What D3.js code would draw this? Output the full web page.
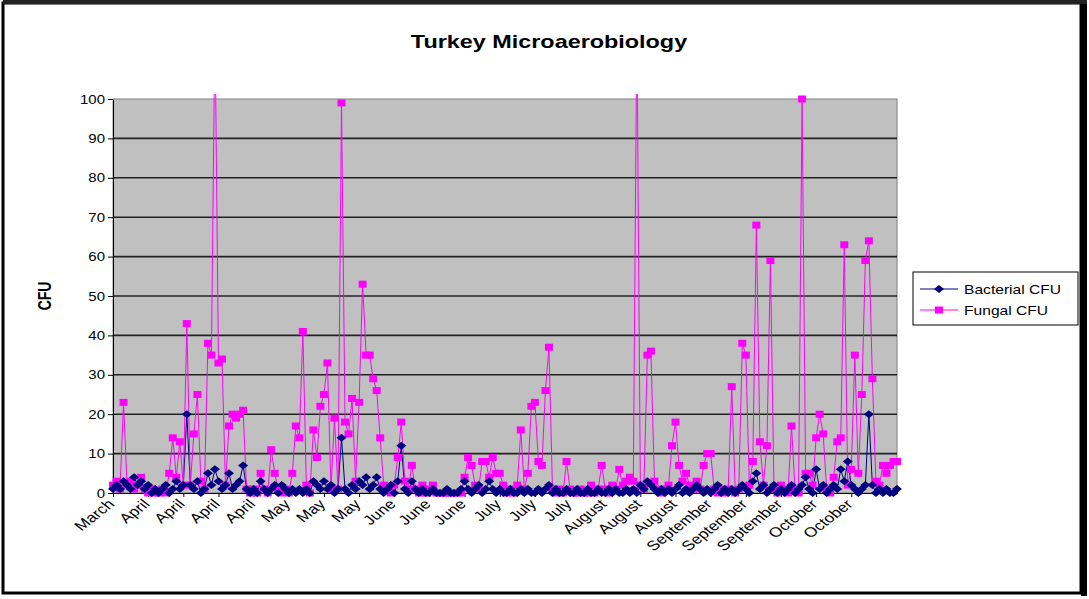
<!DOCTYPE html>
<html>
<head>
<meta charset="utf-8">
<script src="https://cdn.jsdelivr.net/npm/d3@7"></script>
<style>
  body { margin: 0; background: #fff; }
  svg { display: block; font-family: "Liberation Sans", Arial, sans-serif; }
</style>
</head>
<body>
<svg width="1089" height="599"></svg>
<script>
// category labels, one every 10 samples
const monthLabels = ["March", "April", "April", "April", "April", "May", "May", "May",
  "June", "June", "June", "July", "July", "July", "August", "August", "August",
  "September", "September", "September", "October", "October"];
const labelStep = 10;

const bacterial = [
  1, 2, 1, 3, 2, 1, 4, 2, 3, 1, 2, 0, 1, 0, 1, 2, 0, 1, 3, 1,
  2, 20, 2, 1, 3, 0, 1, 5, 2, 6, 3, 1, 2, 5, 1, 2, 3, 7, 1, 0,
  1, 0, 3, 1, 0, 1, 2, 0, 2, 1, 0, 1, 0, 1, 0, 1, 0, 3, 2, 1,
  3, 1, 2, 0, 1, 14, 1, 0, 2, 1, 3, 2, 4, 1, 2, 4, 1, 0, 1, 2,
  0, 3, 12, 1, 0, 3, 1, 0, 1, 0, 0, 1, 0, 0, 0, 1, 0, 0, 0, 1,
  3, 1, 0, 1, 2, 0, 1, 3, 1, 0, 1, 0, 0, 1, 0, 0, 1, 0, 1, 0,
  0, 1, 0, 1, 2, 0, 1, 0, 0, 1, 0, 0, 1, 0, 0, 1, 0, 0, 1, 0,
  0, 1, 0, 1, 0, 0, 1, 0, 1, 0, 2, 1, 3, 2, 1, 0, 1, 0, 1, 0,
  1, 2, 0, 1, 0, 1, 2, 1, 0, 1, 0, 1, 2, 0, 1, 0, 1, 0, 1, 2,
  1, 0, 3, 5, 1, 2, 0, 1, 2, 0, 1, 0, 1, 2, 0, 1, 2, 4, 1, 0,
  6, 1, 2, 0, 1, 2, 1, 6, 3, 8, 2, 1, 0, 1, 2, 20, 2, 0, 1, 0,
  1, 0, 0, 1
];

const fungal = [
  2, 3, 1, 23, 2, 3, 1, 2, 4, 1, 0, 1, 0, 0, 1, 0, 5, 14, 4, 13,
  2, 43, 2, 15, 25, 3, 1, 38, 35, 120, 33, 34, 2, 17, 20, 19, 20, 21, 1, 0,
  1, 0, 5, 1, 0, 11, 5, 1, 0, 1, 0, 5, 17, 14, 41, 2, 0, 16, 9, 22,
  25, 33, 1, 19, 1, 99, 18, 15, 24, 3, 23, 53, 35, 35, 29, 26, 14, 2, 1, 0,
  2, 9, 18, 3, 1, 7, 1, 0, 2, 0, 1, 2, 0, 0, 0, 0, 0, 0, 0, 0,
  4, 9, 7, 2, 1, 8, 8, 4, 9, 5, 5, 2, 0, 1, 0, 2, 16, 1, 5, 22,
  23, 8, 7, 26, 37, 1, 0, 1, 0, 8, 1, 0, 0, 1, 0, 0, 2, 0, 1, 7,
  1, 0, 2, 1, 6, 2, 3, 4, 3, 120, 2, 1, 35, 36, 3, 1, 0, 1, 2, 12,
  18, 7, 3, 5, 2, 1, 3, 1, 7, 10, 10, 1, 0, 1, 0, 1, 27, 0, 1, 38,
  35, 2, 8, 68, 13, 2, 12, 59, 1, 0, 2, 1, 0, 17, 1, 0, 100, 5, 5, 2,
  14, 20, 15, 1, 0, 4, 13, 14, 63, 2, 6, 35, 5, 25, 59, 64, 29, 3, 2, 7,
  5, 7, 8, 8
];

const yTicks = d3.range(0, 101, 10);

const svg = d3.select("svg");
const plotLeft = 113, plotRight = 897, plotTop = 99, plotBottom = 493;
const stretch = 1.28; // the source picture is widened, text included

const x = d3.scaleLinear().domain([0, fungal.length - 1]).range([plotLeft, plotRight]);
const y = d3.scaleLinear().domain([0, 100]).range([plotBottom, plotTop]);

// outer frame
svg.append("rect").attr("x", 3).attr("y", 3).attr("width", 1078).attr("height", 590)
  .attr("fill", "#fff").attr("stroke", "#000").attr("stroke-width", 3);
svg.append("rect").attr("x", 1081).attr("y", 3).attr("width", 6).attr("height", 593).attr("fill", "#000");
svg.append("rect").attr("x", 3).attr("y", 0).attr("width", 1084).attr("height", 4).attr("fill", "#222");

// title
svg.append("text")
  .attr("transform", `translate(549,48) scale(1.3,1)`)
  .attr("text-anchor", "middle")
  .attr("font-weight", "bold").attr("font-size", 18)
  .text("Turkey Microaerobiology");

// plot area
svg.append("rect").attr("x", plotLeft).attr("y", plotTop)
  .attr("width", plotRight - plotLeft).attr("height", plotBottom - plotTop)
  .attr("fill", "#c0c0c0").attr("stroke", "#808080");

svg.append("g").selectAll("line").data(yTicks.filter(t => t > 0 && t < 100)).enter().append("line")
  .attr("x1", plotLeft).attr("x2", plotRight)
  .attr("y1", d => y(d)).attr("y2", d => y(d))
  .attr("stroke", "#222").attr("stroke-width", 1.6);

// y axis
const yAxis = svg.append("g").attr("transform", `translate(${plotLeft},0)`)
  .call(d3.axisLeft(y).tickValues(yTicks).tickSize(5).tickSizeOuter(0));
yAxis.select(".domain").attr("stroke", "#000");
yAxis.selectAll(".tick line").attr("stroke", "#000");
yAxis.selectAll("text")
  .attr("font-size", 12.5).attr("fill", "#000")
  .attr("x", null).attr("dy", null)
  .attr("transform", `translate(-8,4) scale(${stretch - 0.08},1)`);

svg.append("text")
  .attr("transform", `translate(51,296) scale(${stretch},1) rotate(-90)`)
  .attr("text-anchor", "middle")
  .attr("font-weight", "bold").attr("font-size", 14)
  .text("CFU");

// x axis
const xAxis = svg.append("g").attr("transform", `translate(0,${plotBottom})`)
  .call(d3.axisBottom(x)
    .tickValues(monthLabels.map((m, i) => i * labelStep))
    .tickFormat((d, i) => monthLabels[i])
    .tickSize(4).tickSizeOuter(0));
xAxis.select(".domain").attr("stroke", "#000");
xAxis.selectAll(".tick line").attr("stroke", "#000");
xAxis.selectAll("text")
  .attr("font-size", 13.5).attr("fill", "#000")
  .attr("x", null).attr("y", null).attr("dy", null)
  .attr("text-anchor", "end")
  .attr("transform", `translate(2,12) scale(${stretch},1) rotate(-45)`);

// series
svg.append("clipPath").attr("id", "clip").append("rect")
  .attr("x", 0).attr("y", plotTop - 5).attr("width", 1089).attr("height", 600);

const plot = svg.append("g").attr("clip-path", "url(#clip)");
const line = d3.line().x((d, i) => x(i)).y(d => y(d));

plot.append("path").datum(bacterial).attr("d", line)
  .attr("fill", "none").attr("stroke", "#000080").attr("stroke-width", 1);
plot.append("path").datum(fungal).attr("d", line)
  .attr("fill", "none").attr("stroke", "#ff00ff").attr("stroke-width", 1);

plot.selectAll("rect.fungal").data(fungal).enter().append("rect")
  .attr("class", "fungal")
  .attr("x", (d, i) => x(i) - 4).attr("y", d => y(d) - 3.5)
  .attr("width", 8).attr("height", 7)
  .attr("fill", "#ff00ff");

const diamond = "M0,-4L5,0L0,4L-5,0Z";
plot.selectAll("path.bact").data(bacterial).enter().append("path")
  .attr("class", "bact")
  .attr("transform", (d, i) => `translate(${x(i)},${y(d)})`)
  .attr("d", diamond)
  .attr("fill", "#000080");

// legend
const legend = svg.append("g");
legend.append("rect").attr("x", 913).attr("y", 272).attr("width", 165).attr("height", 53)
  .attr("fill", "#fff").attr("stroke", "#000");

const entries = [
  { name: "Bacterial CFU", color: "#000080", mark: "diamond" },
  { name: "Fungal CFU", color: "#ff00ff", mark: "square" }
];
const item = legend.selectAll("g.item").data(entries).enter().append("g")
  .attr("class", "item")
  .attr("transform", (d, i) => `translate(0,${289 + i * 21})`);
item.append("line").attr("x1", 920).attr("x2", 958).attr("y1", 0).attr("y2", 0)
  .attr("stroke", d => d.color);
item.filter(d => d.mark === "diamond").append("path")
  .attr("transform", "translate(939,0)").attr("d", diamond).attr("fill", d => d.color);
item.filter(d => d.mark === "square").append("rect")
  .attr("x", 935).attr("y", -3.5).attr("width", 8).attr("height", 7).attr("fill", d => d.color);
item.append("text")
  .attr("transform", `translate(964,5) scale(${stretch - 0.03},1)`)
  .attr("font-size", 12.5).attr("fill", "#000")
  .text(d => d.name);
</script>
</body>
</html>
